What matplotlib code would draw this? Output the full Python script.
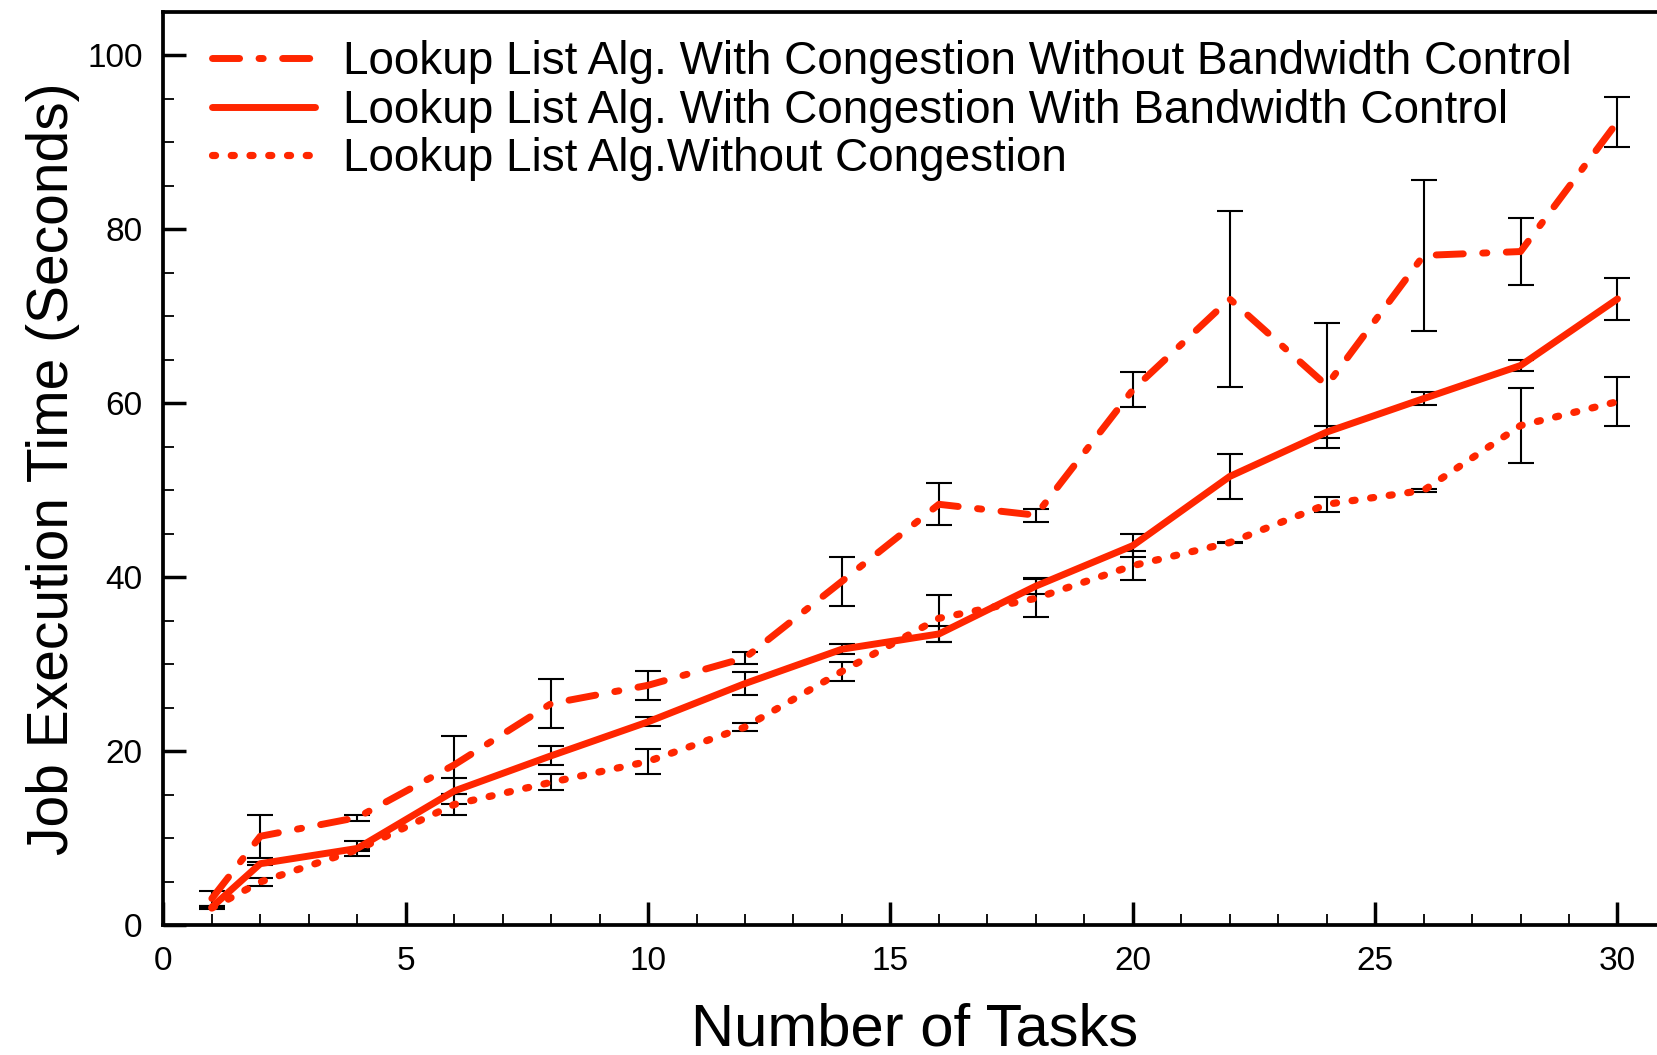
import numpy as np
import matplotlib
matplotlib.use("Agg")
import matplotlib.pyplot as plt
from matplotlib.ticker import MultipleLocator

plt.rcParams['font.family'] = ['Liberation Sans', 'DejaVu Sans']
plt.rcParams['lines.scale_dashes'] = False

tasks = [1, 2, 4, 6, 8, 10, 12, 14, 16, 18, 20, 22, 24, 26, 28, 30]

# congestion, no bandwidth control
no_bw = [3.1, 10.25, 12.4, 18.45, 25.5, 27.6, 30.75, 39.55, 48.4, 47.15, 61.55, 72.0, 62.05, 77.0, 77.45, 92.35]
no_bw_err = [0.9, 2.5, 0.35, 3.3, 2.85, 1.65, 0.65, 2.8, 2.4, 0.75, 2.0, 10.1, 7.15, 8.65, 3.9, 2.85]

# congestion, with bandwidth control
bw = [2.1, 7.1, 8.85, 15.45, 19.5, 23.4, 27.8, 31.75, 33.5, 39.0, 43.65, 51.6, 56.7, 60.55, 64.35, 72.0]
bw_err = [0.15, 0.15, 0.9, 1.45, 1.1, 0.5, 1.35, 0.6, 0.9, 0.95, 1.3, 2.6, 0.65, 0.7, 0.65, 2.4]

# no congestion
no_cong = [2.0, 5.0, 8.7, 13.9, 16.45, 18.85, 22.8, 29.2, 35.3, 37.6, 41.35, 44.0, 48.4, 50.0, 57.45, 60.2]
no_cong_err = [0.1, 0.5, 0.1, 1.25, 0.9, 1.4, 0.5, 1.05, 2.7, 2.2, 1.7, 0.1, 0.85, 0.15, 4.35, 2.85]

labels = ['Lookup List Alg. With Congestion Without Bandwidth Control',
          'Lookup List Alg. With Congestion With Bandwidth Control',
          'Lookup List Alg.Without Congestion']

red = '#ff2600'

fig = plt.figure(figsize=(16.57, 10.55), dpi=100)
ax = fig.add_axes([0.0986, 0.1228, 0.9068, 0.8660])

series = [
    (no_bw, no_bw_err, dict(lw=5, linestyle=(0, (19.5, 14.0, 3.0, 14.0)))),
    (bw, bw_err, dict(lw=5, linestyle='-')),
    (no_cong, no_cong_err, dict(lw=5.2, linestyle=(0, (2.2, 11.3)))),
]

for (vals, err, style), lab in zip(series, labels):
    ax.errorbar(tasks, vals, yerr=err, fmt='none', ecolor='black',
                elinewidth=1.5, capsize=9.7, capthick=1.5, zorder=2)
    ax.plot(tasks, vals, color=red, label=lab, dash_capstyle='round',
            solid_capstyle='round', zorder=3, **style)

ax.set_xlim(0, 31)
ax.set_ylim(0, 105)
ax.xaxis.set_major_locator(MultipleLocator(5))
ax.xaxis.set_minor_locator(MultipleLocator(1))
ax.yaxis.set_major_locator(MultipleLocator(20))
ax.yaxis.set_minor_locator(MultipleLocator(5))

ax.tick_params(which='major', direction='in', length=16.5, width=2.5,
               labelsize=24, pad=15, top=False, right=False)
ax.tick_params(which='minor', direction='in', length=8, width=1.3,
               top=False, right=False)

for side in ['left', 'bottom', 'top']:
    ax.spines[side].set_linewidth(2.7)
ax.spines['right'].set_visible(False)

ax.set_xlabel('Number of Tasks', fontsize=43, labelpad=18)
ax.set_ylabel('Job Execution Time (Seconds)', fontsize=41, labelpad=5)

ax.legend(loc='upper left', bbox_to_anchor=(0.0325, 0.969), frameon=False,
          fontsize=33, handlelength=2.25, handletextpad=0.6,
          labelspacing=0.1, borderpad=0, borderaxespad=0)

fig.savefig('out.png', dpi=100)
